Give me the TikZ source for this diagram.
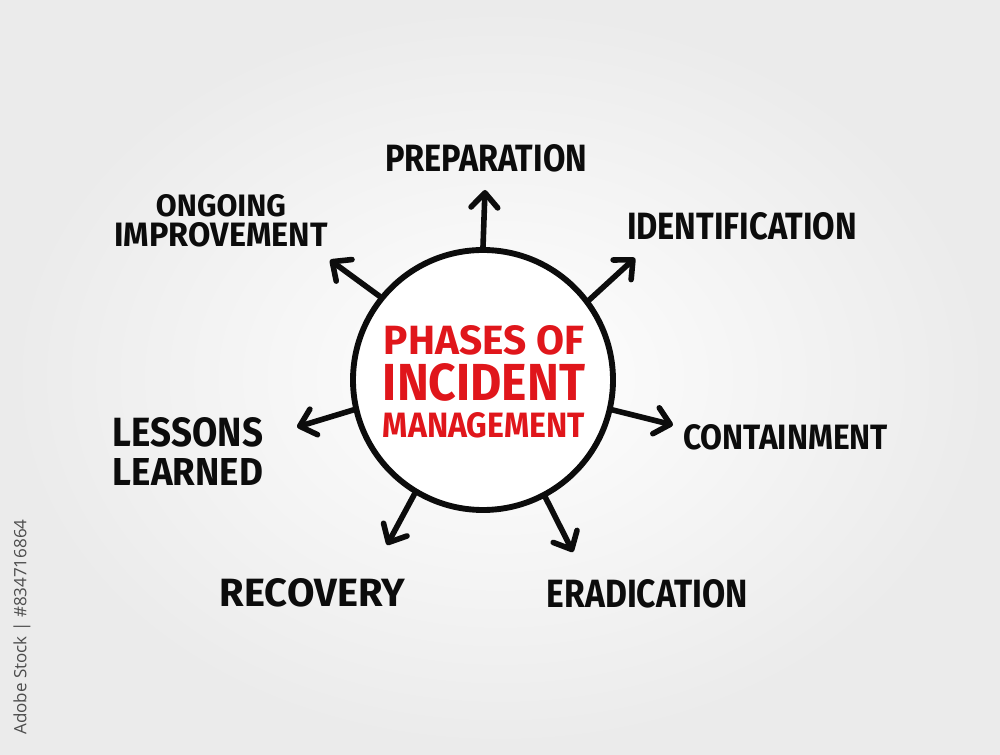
\documentclass[tikz,border=0pt]{standalone}
\usepackage{fontspec}
\usepackage{graphicx}
\usetikzlibrary{arrows.meta}
\newfontfamily\hand{Fira Sans}[FakeStretch=0.85]
\newfontfamily\wmfont{Open Sans}
\newlength\pxu
\setlength\pxu{0.75pt}
\newcommand\fitt[3]{\resizebox{#1\pxu}{#2\pxu}{\hand\bfseries #3}}
\definecolor{inkred}{RGB}{224,22,27}
\definecolor{ink}{RGB}{12,12,12}
\tikzset{
  lbl/.style={inner sep=0pt, text=ink, align=center},
  ctr/.style={inner sep=0pt, text=inkred, align=center},
  spoke/.style={draw=ink, line width=4.2pt, line cap=round,
    -{Straight Barb[length=11pt,width=20pt,round]}},
  ring/.style={draw=ink, fill=white, line width=4.4pt},
}
\begin{document}
\begin{tikzpicture}[x=0.75pt,y=-0.75pt]
\useasboundingbox (0,0) rectangle (1000,755);
\shade[inner color=white, middle color=white, outer color=black!8] (0,0) rectangle (1000,755);
% watermark id
\node[rotate=90, inner sep=0pt, text=black!70] (wm) at (22,627) {\resizebox{215\pxu}{!}{\wmfont Adobe Stock | \#834716864}};
% central circle
\node[ring, circle, minimum size=260\pxu, inner sep=0pt] (c) at (483,380) {};
\node[ctr] (t) at (484,382) {\fitt{200}{29}{PHASES OF}\\[6.7\pxu]\fitt{202}{37}{INCIDENT}\\[9.7\pxu]\fitt{202}{25}{MANAGEMENT}};
% labels
\node[lbl] (prep) at (486,158.5) {\fitt{202}{27}{PREPARATION}};
\node[lbl] (ident) at (742,226.5) {\fitt{230}{27}{IDENTIFICATION}};
\node[lbl] (cont) at (785.5,437.5) {\fitt{205}{25}{CONTAINMENT}};
\node[lbl] (erad) at (647.5,594) {\fitt{201}{28}{ERADICATION}};
\node[lbl] (recov) at (312.5,592.5) {\fitt{185}{28}{RECOVERY}};
\node[lbl] (less) at (188,451.5) {\fitt{150}{29}{LESSONS}\\[9.7\pxu]\fitt{150}{27}{LEARNED}};
\node[lbl] (ong) at (221,221) {\fitt{130}{22}{ONGOING}\\[4.7\pxu]\fitt{213}{24}{IMPROVEMENT}};
% arrow end points
\coordinate (aprep) at (485,190);
\coordinate (aident) at (635,258);
\coordinate (acont) at (673,425);
\coordinate (aerad) at (573,552);
\coordinate (arecov) at (387,545);
\coordinate (aless) at (297,427);
\coordinate (aong) at (330,260);
\draw[spoke] (c.90) -- (aprep);
\draw[spoke] (c.37) -- (aident);
\draw[spoke] (c.-13) -- (acont);
\draw[spoke] (c.-62) -- (aerad);
\draw[spoke] (c.-121) -- (arecov);
\draw[spoke] (c.-167) -- (aless);
\draw[spoke] (c.141) -- (aong);
\end{tikzpicture}
\end{document}
